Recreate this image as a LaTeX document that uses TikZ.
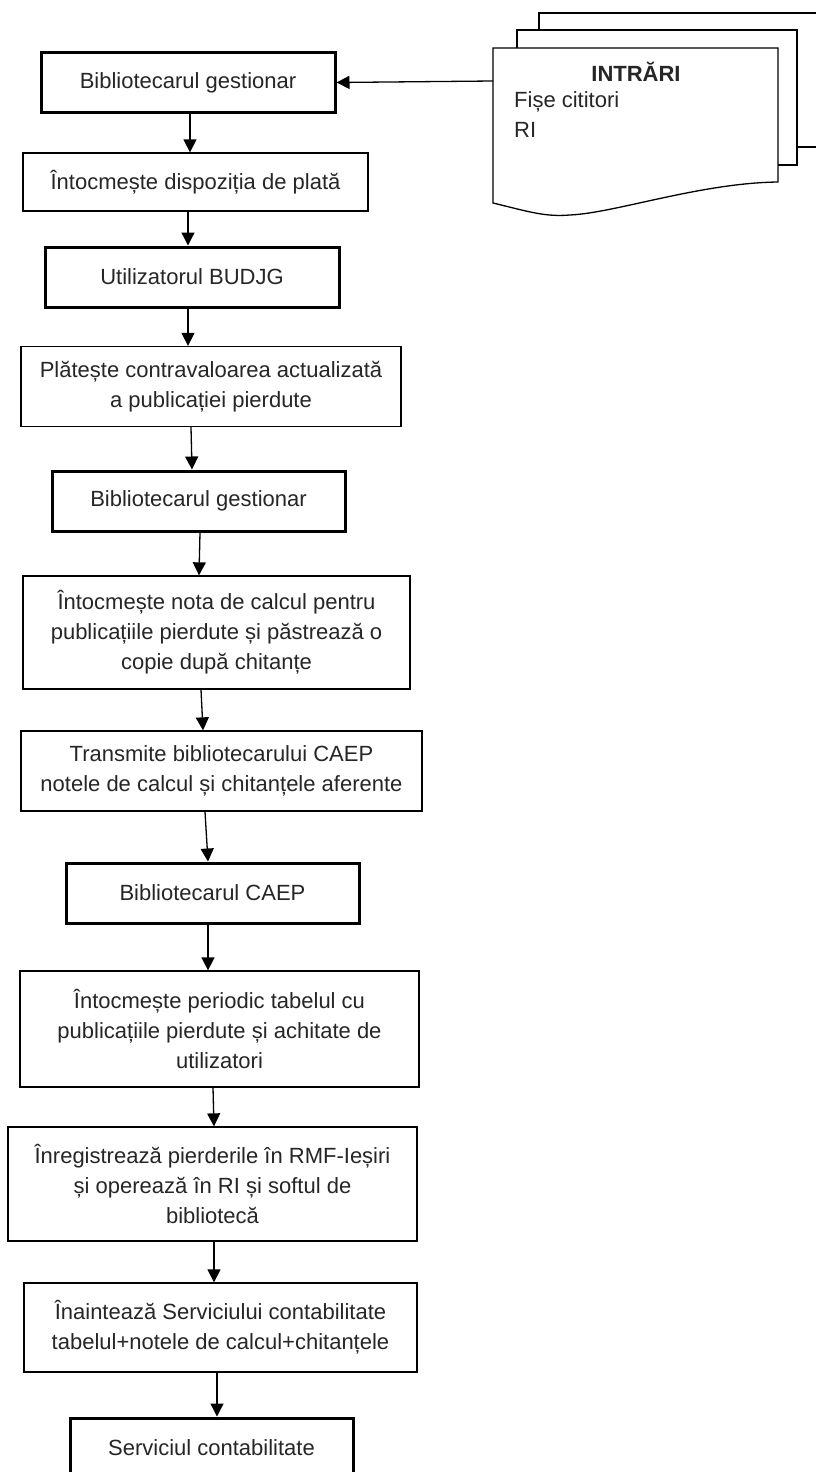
\documentclass[tikz,border=0pt]{standalone}
\usepackage{fontspec}
\setmainfont{Liberation Sans}
\usetikzlibrary{arrows.meta}
\begin{document}
\begin{tikzpicture}[x=1pt,y=-1pt,
  thin box/.style={draw, line width=1.3pt, inner sep=0pt, align=center, fill=white},
  thick box/.style={draw, line width=3pt, inner sep=0pt, align=center, fill=white},
  arr/.style={line width=1.3pt, -{Triangle[length=13pt,width=13pt]}},
  every node/.style={font=\fontsize{22}{30}\selectfont, text=black!85}]
\useasboundingbox (0,0) rectangle (816,1472);
\clip (0,0) rectangle (816,1472);
% document stack
\draw[line width=1.3pt, fill=white] (539,160) -- (539,13) -- (830,13) -- (830,147) -- (797,147);
\draw[line width=1.3pt, fill=white] (517,165) -- (517,30) -- (797,30) -- (797,165) -- cycle;
\draw[line width=1.3pt, fill=white] (493,48) -- (778,48) -- (778,182)
  .. controls (700,183) and (615,213) .. (570,215)
  .. controls (545,217) and (530,212) .. (493,203) -- cycle;
\coordinate (inleft) at (493,81);
\node[font=\fontsize{22}{30}\selectfont\bfseries] (intr) at (636,72) {INTRĂRI};
\node[anchor=west, inner sep=0pt] (fise) at (514,102) {Fișe cititori};
\node[anchor=west, inner sep=0pt] (ri) at (514,130) {RI};
% boxes
\node[thick box, minimum width=294pt, minimum height=59pt] (b1) at (188,82.5) {Bibliotecarul gestionar};
\node[thin box, minimum width=345pt, minimum height=58pt] (b2) at (195.5,182) {Întocmește dispoziția de plată};
\node[thick box, minimum width=294pt, minimum height=60pt] (b3) at (192,277) {Utilizatorul BUDJG};
\node[thin box, minimum width=380pt, minimum height=80pt] (b4) at (211,386.5) {Plătește contravaloarea actualizată\\a publicației pierdute};
\node[thick box, minimum width=293pt, minimum height=60pt] (b5) at (198.5,501) {Bibliotecarul gestionar};
\node[thin box, minimum width=387pt, minimum height=113pt] (b6) at (216.5,632.5) {Întocmește nota de calcul pentru\\publicațiile pierdute și păstrează o\\copie după chitanțe};
\node[thin box, minimum width=401pt, minimum height=80pt] (b7) at (221.5,771) {Transmite bibliotecarului CAEP\\notele de calcul și chitanțele aferente};
\node[thick box, minimum width=293pt, minimum height=60pt] (b8) at (212.5,893) {Bibliotecarul CAEP};
\node[thin box, minimum width=399pt, minimum height=116pt] (b9) at (219.5,1029) {Întocmește periodic tabelul cu\\publicațiile pierdute și achitate de\\utilizatori};
\node[thin box, minimum width=409pt, minimum height=114pt] (b10) at (212.5,1184) {Înregistrează pierderile în RMF-Ieșiri\\și operează în RI și softul de\\bibliotecă};
\node[thin box, minimum width=393pt, minimum height=89pt] (b11) at (220.5,1327.5) {Înaintează Serviciului contabilitate\\tabelul+notele de calcul+chitanțele};
\node[thick box, minimum width=283pt, minimum height=60pt] (b12) at (211.5,1448) {Serviciul contabilitate};
% connectors
\draw[arr] (inleft) -- (b1.east);
\draw[arr] (b1.south -| 190,0) -- (b2.north -| 190,0);
\draw[arr] (b2.south -| 188,0) -- (b3.north -| 188,0);
\draw[arr] (b3.south -| 188,0) -- (b4.north -| 188,0);
\draw[arr] (b4.south -| 191,0) -- (b5.north -| 192,0);
\draw[arr] (b5.south -| 200,0) -- (b6.north -| 199,0);
\draw[arr] (b6.south -| 201,0) -- (b7.north -| 203,0);
\draw[arr] (b7.south -| 205,0) -- (b8.north -| 208,0);
\draw[arr] (b8.south -| 208,0) -- (b9.north -| 208,0);
\draw[arr] (b9.south -| 213,0) -- (b10.north -| 214,0);
\draw[arr] (b10.south -| 214,0) -- (b11.north -| 214,0);
\draw[arr] (b11.south -| 217,0) -- (b12.north -| 217,0);
\end{tikzpicture}
\end{document}
